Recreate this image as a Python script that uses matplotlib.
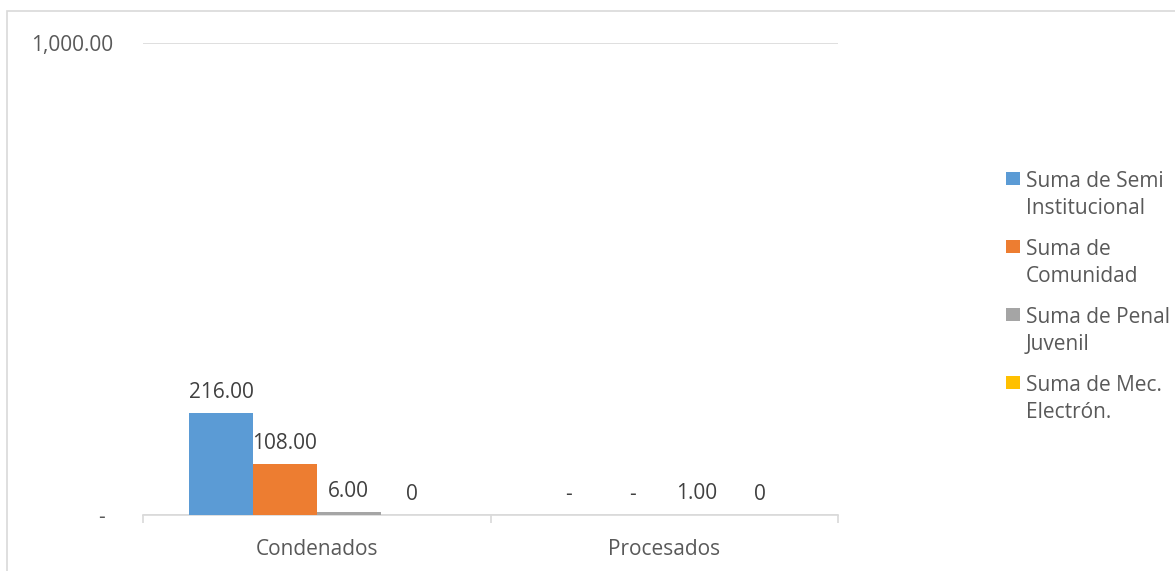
import numpy as np
import matplotlib.pyplot as plt
from matplotlib.patches import Rectangle
from matplotlib.transforms import offset_copy

categories = ["Condenados", "Procesados"]
series_names = [["Suma de Semi", "Institucional"], ["Suma de", "Comunidad"],
                ["Suma de Penal", "Juvenil"], ["Suma de Mec.", "Electrón."]]
semi_institucional = [216, 0]
comunidad = [108, 0]
penal_juvenil = [6, 1]
mec_electron = [0, 0]
values = [semi_institucional, comunidad, penal_juvenil, mec_electron]
colors = ["#5B9BD5", "#ED7D31", "#A5A5A5", "#FFC000"]

TEXT = "#595959"
LABEL = "#404040"
LINE = "#D9D9D9"
FS = 15
plt.rcParams["font.family"] = ["Open Sans", "DejaVu Sans"]


def accounting(v):
    # excel accounting format shows zero as a dash
    return "-" if v == 0 else f"{v:,.2f}"


fig = plt.figure(figsize=(11.75, 5.71), dpi=100)
W, H = 1175, 571

# chart area border (only top and left are inside the picture)
fig.add_artist(Rectangle((7 / W, -0.1), 1.2, (H - 11) / H + 0.1,
                         transform=fig.transFigure, fill=False,
                         edgecolor=LINE, linewidth=1.2))

ax = fig.add_axes([143 / W, 1 - 515 / H, (838 - 143) / W, (515 - 43) / H])

x = np.arange(len(categories))
bw = 0.1835
offsets = (np.arange(4) - 1.5) * bw
for i, (vals, c) in enumerate(zip(values, colors)):
    bars = ax.bar(x + offsets[i], vals, bw, color=c, zorder=3)
    for b, v in zip(bars, vals):
        lab = str(v) if i == 3 else accounting(v)
        ax.annotate(lab, (b.get_x() + b.get_width() / 2, b.get_height()),
                    xytext=(0, 11), textcoords="offset points",
                    ha="center", va="baseline", fontsize=FS, color=LABEL)

ax.set_xlim(-0.5, 1.5)
ax.set_ylim(0, 1000)
ax.set_yticks([0, 1000])
ax.set_yticklabels(["-", "1,000.00"])
ax.yaxis.grid(True, color=LINE, linewidth=1.2)
ax.set_axisbelow(True)

ax.set_xticks(x)
ax.set_xticklabels(categories)
ax.set_xticks([-0.5, 0.5, 1.5], minor=True)
ax.tick_params(axis="x", which="major", length=0, pad=17, labelsize=FS, labelcolor=TEXT)
ax.tick_params(axis="x", which="minor", length=6, width=1.2, color=LINE)
ax.tick_params(axis="y", length=0, pad=21.5, labelsize=FS, labelcolor=TEXT)
# the accounting dash sits left of the number column
ax.get_yticklabels()[0].set_transform(
    offset_copy(ax.get_yticklabels()[0].get_transform(), fig=fig, x=-8, units="dots"))

for s in ["top", "right", "left"]:
    ax.spines[s].set_visible(False)
ax.spines["bottom"].set_color(LINE)
ax.spines["bottom"].set_linewidth(1.2)

# legend drawn Excel-style: square aligned with the first line of each entry
for i, (lines, c) in enumerate(zip(series_names, colors)):
    base = 187 + i * 68
    fig.add_artist(Rectangle((1006 / W, 1 - (base - 2) / H), 14 / W, 13 / H,
                             transform=fig.transFigure, facecolor=c,
                             edgecolor="none"))
    for j, line in enumerate(lines):
        fig.text(1026 / W, 1 - (base + 27 * j) / H, line, ha="left",
                 va="baseline", fontsize=FS, color=TEXT)

fig.savefig("out.png", dpi=100)
